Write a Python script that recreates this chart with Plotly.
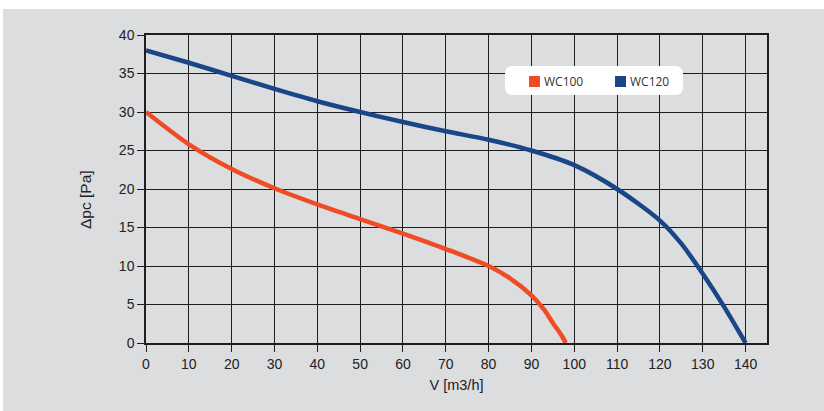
import plotly.graph_objects as go

# Fan curves: pressure drop vs air flow
flow_wc100 = [0, 10, 20, 30, 40, 50, 60, 70, 80, 85, 90, 93, 95, 97, 98]
dp_wc100 = [30, 25.8, 22.6, 20.1, 18.0, 16.1, 14.2, 12.2, 10.0, 8.4, 6.2, 4.3, 2.6, 1.0, 0]

flow_wc120 = [0, 10, 20, 30, 40, 50, 60, 70, 80, 90, 100, 110, 120, 125, 130, 135, 140]
dp_wc120 = [38, 36.4, 34.7, 33.0, 31.4, 30.0, 28.7, 27.5, 26.4, 25.0, 23.1, 20.0, 15.9, 12.9, 9.0, 4.7, 0]

series_names = ["WC100", "WC120"]

x_ticks = list(range(0, 141, 10))
y_ticks = list(range(0, 41, 5))

ORANGE = "#ef4b24"
BLUE = "#1a4587"
PANEL = "#dcdddf"
GRID = "#1e1e1e"

fig = go.Figure()

fig.add_trace(go.Scatter(x=flow_wc100, y=dp_wc100, mode="lines", name=series_names[0],
                         line=dict(color=ORANGE, width=4.5, shape="spline", smoothing=0.8),
                         showlegend=False, hoverinfo="skip"))
fig.add_trace(go.Scatter(x=flow_wc120, y=dp_wc120, mode="lines", name=series_names[1],
                         line=dict(color=BLUE, width=4.5, shape="spline", smoothing=0.8),
                         showlegend=False, hoverinfo="skip"))

W, H = 824, 411
L, R, T, B = 146, 57, 35, 68
pw, ph = W - L - R, H - T - B


def px_x(p):
    return (p - L) / pw


def px_y(p):
    return (H - B - p) / ph


shapes = [
    # grey panel behind everything
    dict(type="rect", xref="paper", yref="paper", layer="below",
         x0=px_x(3), x1=px_x(W + 2), y0=px_y(H + 2), y1=px_y(9),
         fillcolor=PANEL, line=dict(width=0)),
]

# rounded white key box
x0, x1 = px_x(505), px_x(683)
y0, y1 = px_y(95), px_y(66)
rx, ry = 8 / pw, 8 / ph
path = (f"M {x0+rx},{y0} L {x1-rx},{y0} Q {x1},{y0} {x1},{y0+ry} "
        f"L {x1},{y1-ry} Q {x1},{y1} {x1-rx},{y1} L {x0+rx},{y1} "
        f"Q {x0},{y1} {x0},{y1-ry} L {x0},{y0+ry} Q {x0},{y0} {x0+rx},{y0} Z")
shapes.append(dict(type="path", xref="paper", yref="paper", layer="above",
                   path=path, fillcolor="white", line=dict(width=0)))

annotations = []
# key swatches and labels
for name, color, sx in zip(series_names, [ORANGE, BLUE], [529, 615]):
    shapes.append(dict(type="rect", xref="paper", yref="paper", layer="above",
                       x0=px_x(sx), x1=px_x(sx + 11), y0=px_y(87), y1=px_y(76),
                       fillcolor=color, line=dict(width=0)))
    annotations.append(dict(xref="paper", yref="paper", x=px_x(sx + 13), y=px_y(81.5),
                            xanchor="left", yanchor="middle", showarrow=False,
                            text=name, font=dict(family="Open Sans", size=12, color="#333")))

# y-axis title
annotations.append(dict(xref="paper", yref="paper", x=px_x(85), y=px_y(200),
                        xanchor="center", yanchor="middle", showarrow=False,
                        textangle=-90, text="Δpc [Pa]",
                        font=dict(family="Liberation Sans, Arial, sans-serif", size=15.5, color="#222")))

fig.update_layout(
    width=W, height=H,
    margin=dict(l=L, r=R, t=T, b=B),
    paper_bgcolor="white",
    plot_bgcolor="rgba(0,0,0,0)",
    font=dict(family="Liberation Sans, Arial, sans-serif", size=13, color="#222"),
    shapes=shapes,
    annotations=annotations,
    showlegend=False,
    xaxis=dict(range=[0, 145], tickvals=x_ticks, ticktext=[str(v) for v in x_ticks],
               tickfont=dict(size=14),
               showgrid=True, gridcolor=GRID, gridwidth=1.3,
               showline=True, linecolor=GRID, linewidth=1.5, mirror=True,
               ticks="outside", ticklen=7, tickcolor=GRID, tickwidth=1.3,
               zeroline=False,
               title=dict(text="V [m3/h]", standoff=9, font=dict(size=14.5)),
               fixedrange=True),
    yaxis=dict(range=[0, 40], tickvals=y_ticks, ticktext=[str(v) for v in y_ticks],
               tickfont=dict(size=14),
               showgrid=True, gridcolor=GRID, gridwidth=1.3,
               showline=True, linecolor=GRID, linewidth=1.5, mirror=True,
               ticks="outside", ticklen=7, tickcolor=GRID, tickwidth=1.3,
               zeroline=False, fixedrange=True),
)

fig.write_html("out.html")
